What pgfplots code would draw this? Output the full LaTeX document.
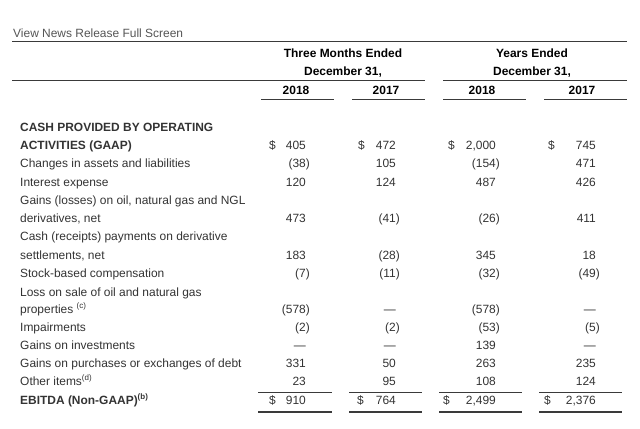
\documentclass[border=0pt]{standalone}
\usepackage{fontspec}
\setmainfont{Liberation Sans}
\usepackage{pgfplots}
\usepackage{pgfplotstable}
\pgfplotsset{compat=1.18}
\definecolor{txt}{HTML}{333333}
\definecolor{rule}{HTML}{3A3A3A}
\definecolor{grey}{HTML}{555555}

% rows: y position (px from top), label, four value columns
\pgfplotstableread[col sep=&, row sep=\\]{
y & label & c1 & c2 & c3 & c4 \\
127 & {\textbf{CASH PROVIDED BY OPERATING}} & {} & {} & {} & {} \\
145 & {\textbf{ACTIVITIES (GAAP)}} & 405 & 472 & {2,000} & 745 \\
163 & {Changes in assets and liabilities} & {(38\rlap{)}} & 105 & {(154\rlap{)}} & 471 \\
182 & {Interest expense} & 120 & 124 & 487 & 426 \\
200 & {Gains (losses) on oil, natural gas and NGL} & {} & {} & {} & {} \\
218 & {derivatives, net} & 473 & {(41\rlap{)}} & {(26\rlap{)}} & 411 \\
236 & {Cash (receipts) payments on derivative} & {} & {} & {} & {} \\
255 & {settlements, net} & 183 & {(28\rlap{)}} & 345 & 18 \\
273 & {Stock-based compensation} & {(7\rlap{)}} & {(11\rlap{)}} & {(32\rlap{)}} & {(49\rlap{)}} \\
292 & {Loss on sale of oil and natural gas} & {} & {} & {} & {} \\
309 & {properties \textsuperscript{(c)}} & {(578\rlap{)}} & {---} & {(578\rlap{)}} & {---} \\
327 & {Impairments} & {(2\rlap{)}} & {(2\rlap{)}} & {(53\rlap{)}} & {(5\rlap{)}} \\
345 & {Gains on investments} & {---} & {---} & 139 & {---} \\
363 & {Gains on purchases or exchanges of debt} & 331 & 50 & 263 & 235 \\
381 & {Other items\textsuperscript{(d)}} & 23 & 95 & 108 & 124 \\
400 & {\textbf{EBITDA (Non-GAAP)\textsuperscript{(b)}}} & 910 & 764 & {2,499} & {2,376} \\
}\rows

% dollar signs: y and left edge in each column
\pgfplotstableread[col sep=&, row sep=\\]{
y & d1 & d2 & d3 & d4 \\
145 & 269 & 358 & 448 & 548 \\
400 & 269 & 357 & 443 & 544 \\
}\dollars

\begin{document}
\begin{tikzpicture}[font=\fontsize{12}{14}\selectfont]
\begin{axis}[
  width=640bp, height=428bp, scale only axis,
  xmin=0, xmax=640, ymin=0, ymax=428, y dir=reverse,
  hide axis, clip=false,
  every node near coord/.append style={inner sep=0pt, text height=8.6bp, text depth=0pt, text=txt},
]
% row labels
\addplot[draw=none, mark=none, nodes near coords, point meta=explicit symbolic,
  nodes near coords style={anchor=west}] table[x expr=20, y=y, meta=label]{\rows};
% value columns, right aligned on the digits
\addplot[draw=none, mark=none, nodes near coords, point meta=explicit symbolic,
  nodes near coords style={anchor=east}] table[x expr=306, y=y, meta=c1]{\rows};
\addplot[draw=none, mark=none, nodes near coords, point meta=explicit symbolic,
  nodes near coords style={anchor=east}] table[x expr=396, y=y, meta=c2]{\rows};
\addplot[draw=none, mark=none, nodes near coords, point meta=explicit symbolic,
  nodes near coords style={anchor=east}] table[x expr=496, y=y, meta=c3]{\rows};
\addplot[draw=none, mark=none, nodes near coords, point meta=explicit symbolic,
  nodes near coords style={anchor=east}] table[x expr=596, y=y, meta=c4]{\rows};
% dollar signs
\foreach \d in {d1,d2,d3,d4}{
  \addplot[draw=none, mark=none, nodes near coords={\$},
    nodes near coords style={anchor=west}] table[x=\d, y=y]{\dollars};
}
% rules
\addplot[rule, line width=1bp] coordinates {(12,42)(627,42)};
\addplot[rule, line width=1bp] coordinates {(12,80)(425,80)};
\addplot[rule, line width=1bp] coordinates {(443,80)(627,80)};
\addplot[rule, line width=1bp] coordinates {(261,99)(334,99)};
\addplot[rule, line width=1bp] coordinates {(352,99)(425,99)};
\addplot[rule, line width=1bp] coordinates {(443,99)(526,99)};
\addplot[rule, line width=1bp] coordinates {(544,99)(627,99)};
\addplot[rule, line width=0.8bp] coordinates {(258,392)(332,392)};
\addplot[rule, line width=0.8bp] coordinates {(349,392)(422,392)};
\addplot[rule, line width=0.8bp] coordinates {(439,392)(522,392)};
\addplot[rule, line width=0.8bp] coordinates {(539,392)(622,392)};
\addplot[rule, line width=2bp] coordinates {(258,412)(332,412)};
\addplot[rule, line width=2bp] coordinates {(349,412)(422,412)};
\addplot[rule, line width=2bp] coordinates {(439,412)(522,412)};
\addplot[rule, line width=2bp] coordinates {(539,412)(622,412)};
% headings
\node[anchor=west, text=grey, inner sep=0pt, text height=8.6bp] at (axis cs:13,33) {View News Release Full Screen};
\node[text height=8.6bp, inner sep=0pt] at (axis cs:343,53) {\textbf{Three Months Ended}};
\node[text height=8.6bp, inner sep=0pt] at (axis cs:532,53) {\textbf{Years Ended}};
\node[text height=8.6bp, inner sep=0pt] at (axis cs:343,72) {\textbf{December 31,}};
\node[text height=8.6bp, inner sep=0pt] at (axis cs:532,72) {\textbf{December 31,}};
\node[text height=8.6bp, inner sep=0pt] at (axis cs:296,90) {\textbf{2018}};
\node[text height=8.6bp, inner sep=0pt] at (axis cs:386,90) {\textbf{2017}};
\node[text height=8.6bp, inner sep=0pt] at (axis cs:482,90) {\textbf{2018}};
\node[text height=8.6bp, inner sep=0pt] at (axis cs:582,90) {\textbf{2017}};
\end{axis}
\path (current axis.south west) rectangle (current axis.north east);
\end{tikzpicture}
\end{document}
